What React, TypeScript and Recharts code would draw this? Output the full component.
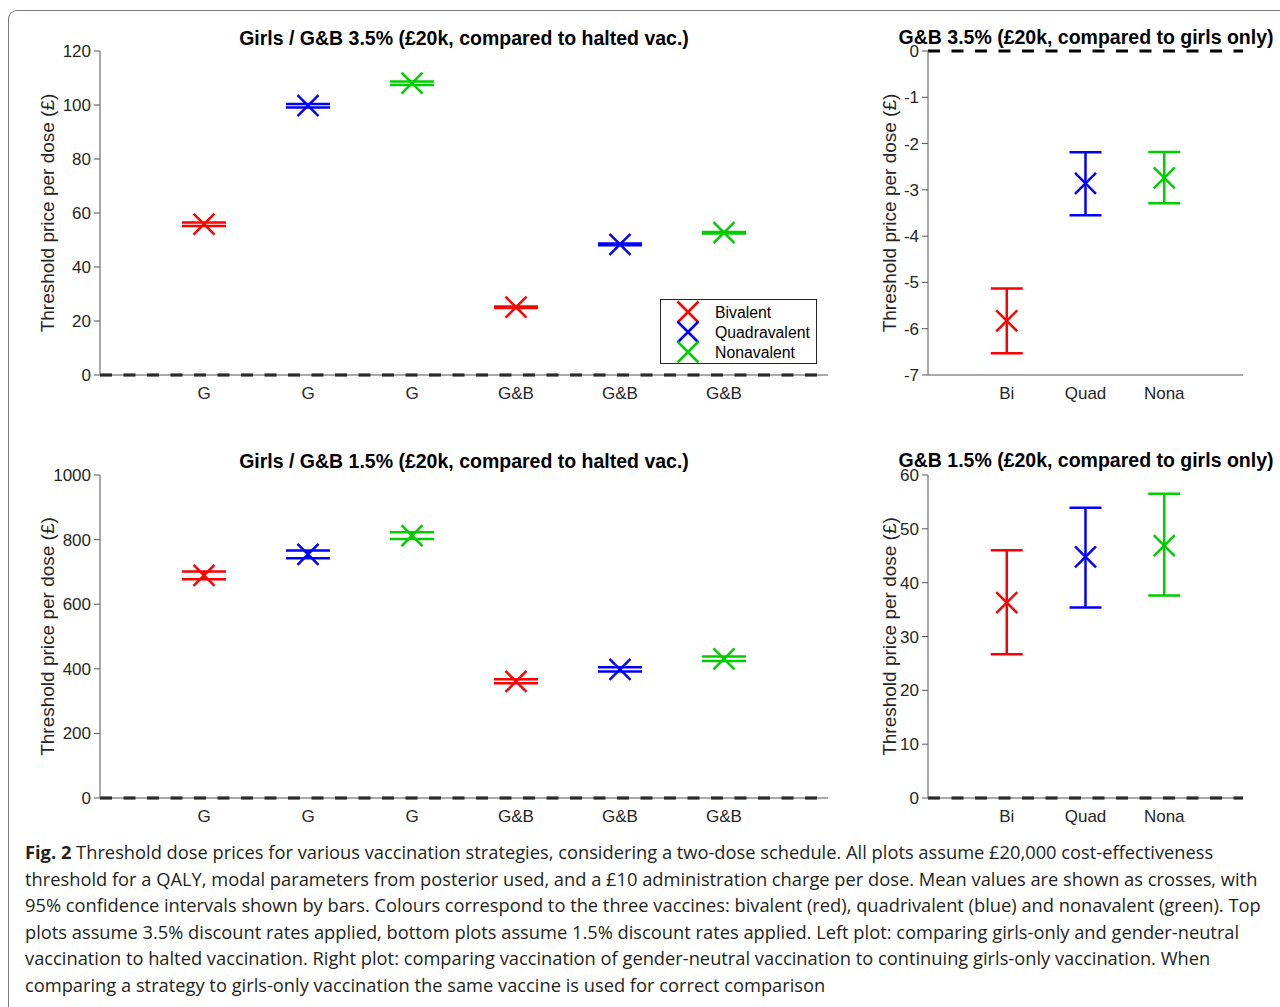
import React from 'react';
import { ComposedChart, Scatter, XAxis, YAxis, ErrorBar, ReferenceLine } from 'recharts';

// ---------- data ----------
const vaccineNames = ['Bivalent', 'Quadravalent', 'Nonavalent'];
const vaccineColors = ['#ff0000', '#0000ff', '#00cc00'];

// left panels: strategy (girls only / G&B) compared to halted vaccination
const strategyLabels = ['G', 'G', 'G', 'G&B', 'G&B', 'G&B'];
const strategyVaccine = [0, 1, 2, 0, 1, 2];

const top35Mean = [55.9, 99.8, 108.1, 25.1, 48.4, 52.7];
const top35Low = [55.2, 99.1, 107.4, 24.8, 48.1, 52.4];
const top35High = [56.5, 100.4, 108.7, 25.4, 48.7, 53.0];

const bot15Mean = [689, 754, 812, 361, 398, 431];
const bot15Low = [677, 742, 802, 355, 392, 424];
const bot15High = [701, 766, 823, 368, 405, 438];

// right panels: G&B compared to girls only
const rightLabels = ['Bi', 'Quad', 'Nona'];
const right35Mean = [-5.83, -2.86, -2.74];
const right35Low = [-6.53, -3.55, -3.29];
const right35High = [-5.13, -2.19, -2.18];

const right15Mean = [36.3, 44.8, 46.9];
const right15Low = [26.7, 35.4, 37.6];
const right15High = [46.0, 53.9, 56.5];

// axis ticks
const leftXTicks = [1, 2, 3, 4, 5, 6];
const rightXTicks = [1, 2, 3];
const topLeftYTicks = [0, 20, 40, 60, 80, 100, 120];
const botLeftYTicks = [0, 200, 400, 600, 800, 1000];
const topRightYTicks = [-7, -6, -5, -4, -3, -2, -1, 0];
const botRightYTicks = [0, 10, 20, 30, 40, 50, 60];

const titles = [
  'Girls / G&B 3.5% (£20k, compared to halted vac.)',
  'G&B 3.5% (£20k, compared to girls only)',
  'Girls / G&B 1.5% (£20k, compared to halted vac.)',
  'G&B 1.5% (£20k, compared to girls only)',
];
const yAxisTitle = 'Threshold price per dose (£)';

const captionLines = [
  'Threshold dose prices for various vaccination strategies, considering a two-dose schedule. All plots assume £20,000 cost-effectiveness',
  'threshold for a QALY, modal parameters from posterior used, and a £10 administration charge per dose. Mean values are shown as crosses, with',
  '95% confidence intervals shown by bars. Colours correspond to the three vaccines: bivalent (red), quadrivalent (blue) and nonavalent (green). Top',
  'plots assume 3.5% discount rates applied, bottom plots assume 1.5% discount rates applied. Left plot: comparing girls-only and gender-neutral',
  'vaccination to halted vaccination. Right plot: comparing vaccination of gender-neutral vaccination to continuing girls-only vaccination. When',
  'comparing a strategy to girls-only vaccination the same vaccine is used for correct comparison',
];

// ---------- helpers ----------
const FONT = '"Liberation Sans", Arial, Helvetica, sans-serif';
const AX = '#555555';
const TXT = '#262626';

type Pt = { x: number; y: number; err: [number, number] };

function leftSeries(mean: number[], low: number[], high: number[]) {
  return vaccineColors.map((color, v) => {
    const data: Pt[] = [];
    strategyVaccine.forEach((sv, i) => {
      if (sv === v) data.push({ x: i + 1, y: mean[i], err: [mean[i] - low[i], high[i] - mean[i]] });
    });
    return { name: vaccineNames[v], color, data };
  });
}

function rightSeries(mean: number[], low: number[], high: number[]) {
  return vaccineColors.map((color, v) => ({
    name: vaccineNames[v],
    color,
    data: [{ x: v + 1, y: mean[v], err: [mean[v] - low[v], high[v] - mean[v]] as [number, number] }],
  }));
}

const makeX = (color: string, half: number, sw: number) => (props: any) => {
  const { cx, cy } = props;
  if (cx == null || cy == null) return <g />;
  return (
    <g>
      <line x1={cx - half} y1={cy - half} x2={cx + half} y2={cy + half} stroke={color} strokeWidth={sw} />
      <line x1={cx - half} y1={cy + half} x2={cx + half} y2={cy - half} stroke={color} strokeWidth={sw} />
    </g>
  );
};

const EmptyTick = () => <g />;

const makeYLabel = (distFromAxis: number) => (props: any) => {
  const vb = props.viewBox || {};
  const x = vb.x + vb.width - distFromAxis;
  const y = vb.y + vb.height / 2;
  return (
    <text
      x={x}
      y={y}
      transform={`rotate(-90, ${x}, ${y})`}
      textAnchor="middle"
      dominantBaseline="central"
      fill={TXT}
      fontSize={19}
      fontFamily={FONT}
    >
      {yAxisTitle}
    </text>
  );
};

type PanelProps = {
  width: number;
  height: number;
  margin: { top: number; right: number; bottom: number; left: number };
  xDomain: [number, number];
  xTicks: number[];
  xLabels: string[];
  yDomain: [number, number];
  yTicks: number[];
  series: { name: string; color: string; data: Pt[] }[];
  capHalf: number;
  labelDist: number;
};

function Panel(p: PanelProps) {
  return (
    <ComposedChart width={p.width} height={p.height} margin={p.margin} style={{ fontFamily: FONT }}>
      <XAxis
        xAxisId="bm"
        type="number"
        dataKey="x"
        orientation="bottom"
        mirror
        height={0}
        domain={p.xDomain}
        ticks={p.xTicks}
        allowDataOverflow
        axisLine={false}
        tickLine={{ stroke: AX, strokeWidth: 1 }}
        tickSize={7}
        tick={EmptyTick}
      />
      <XAxis
        xAxisId="b"
        type="number"
        dataKey="x"
        orientation="bottom"
        height={30}
        domain={p.xDomain}
        ticks={p.xTicks}
        interval={0}
        allowDataOverflow
        tickFormatter={(v: number) => p.xLabels[v - 1] ?? ''}
        axisLine={{ stroke: AX, strokeWidth: 1 }}
        tickLine={false}
        tickSize={6}
        tickMargin={6}
        tick={{ fill: TXT, fontSize: 17, fontFamily: FONT }}
      />
      <XAxis
        xAxisId="t"
        type="number"
        dataKey="x"
        orientation="top"
        mirror
        height={0}
        domain={p.xDomain}
        ticks={p.xTicks}
        allowDataOverflow
        axisLine={{ stroke: AX, strokeWidth: 1 }}
        tickLine={{ stroke: AX, strokeWidth: 1 }}
        tickSize={7}
        tick={EmptyTick}
      />
      <YAxis
        yAxisId="l"
        type="number"
        dataKey="y"
        width={60}
        domain={p.yDomain}
        ticks={p.yTicks}
        interval={0}
        allowDataOverflow
        axisLine={{ stroke: AX, strokeWidth: 1 }}
        tickLine={{ stroke: AX, strokeWidth: 1 }}
        tickSize={6}
        tickMargin={3}
        tick={{ fill: TXT, fontSize: 17, fontFamily: FONT }}
        label={{ content: makeYLabel(p.labelDist) } as any}
      />
      <YAxis
        yAxisId="r"
        type="number"
        orientation="right"
        mirror
        width={0}
        domain={p.yDomain}
        ticks={p.yTicks}
        allowDataOverflow
        axisLine={{ stroke: AX, strokeWidth: 1 }}
        tickLine={{ stroke: AX, strokeWidth: 1 }}
        tickSize={7}
        tick={EmptyTick}
      />
      <ReferenceLine
        xAxisId="b"
        yAxisId="l"
        y={0}
        stroke="#000000"
        strokeWidth={3}
        strokeDasharray="12 11.5"
      />
      {p.series.map((s) => (
        <Scatter
          key={s.name}
          name={s.name}
          xAxisId="b"
          yAxisId="l"
          data={s.data}
          dataKey="y"
          fill={s.color}
          isAnimationActive={false}
          shape={makeX(s.color, 10.5, 2.5)}
        >
          <ErrorBar
            dataKey="err"
            direction="y"
            width={p.capHalf}
            stroke={s.color}
            strokeWidth={2.5}
            isAnimationActive={false}
          />
        </Scatter>
      ))}
    </ComposedChart>
  );
}

function LegendBox() {
  return (
    <svg width={158} height={66} style={{ position: 'absolute', left: 660, top: 299 }}>
      <rect x={0.5} y={0.5} width={156} height={64} fill="#ffffff" stroke={TXT} strokeWidth={1} />
      {vaccineNames.map((name, i) => {
        const cy = 13 + i * 20;
        const cx = 28;
        const h = 10.5;
        return (
          <g key={name}>
            <line x1={cx - h} y1={cy - h} x2={cx + h} y2={cy + h} stroke={vaccineColors[i]} strokeWidth={2.5} />
            <line x1={cx - h} y1={cy + h} x2={cx + h} y2={cy - h} stroke={vaccineColors[i]} strokeWidth={2.5} />
            <text x={55} y={cy} dominantBaseline="central" fontSize={15.8} fill="#000" fontFamily={FONT}>
              {name}
            </text>
          </g>
        );
      })}
    </svg>
  );
}

function Title({ text, cx, top }: { text: string; cx: number; top: number }) {
  return (
    <div
      style={{
        position: 'absolute',
        left: cx - 300,
        top,
        width: 600,
        textAlign: 'center',
        fontFamily: FONT,
        fontWeight: 'bold',
        fontSize: 19.5,
        lineHeight: '22px',
        color: '#000',
        whiteSpace: 'nowrap',
      }}
    >
      {text}
    </div>
  );
}

export default function App() {
  const tl = leftSeries(top35Mean, top35Low, top35High);
  const bl = leftSeries(bot15Mean, bot15Low, bot15High);
  const tr = rightSeries(right35Mean, right35Low, right35High);
  const br = rightSeries(right15Mean, right15Low, right15High);

  return (
    <div
      style={{
        position: 'absolute',
        left: 0,
        top: 0,
        width: 1280,
        height: 1007,
        background: '#ffffff',
        overflow: 'hidden',
        fontFamily: FONT,
      }}
    >
      <div
        style={{
          position: 'absolute',
          left: 8,
          top: 10,
          width: 1320,
          height: 1040,
          borderTop: '1px solid #7a7a7a',
          borderLeft: '1px solid #7a7a7a',
          borderTopLeftRadius: 9,
        }}
      />
      <div style={{ position: 'absolute', left: 0, top: 0 }}>
        <Panel
          width={860}
          height={420}
          margin={{ top: 51, right: 32, bottom: 15, left: 40 }}
          xDomain={[0, 7]}
          xTicks={leftXTicks}
          xLabels={strategyLabels}
          yDomain={[0, 120]}
          yTicks={topLeftYTicks}
          series={tl}
          capHalf={22}
          labelDist={53}
        />
      </div>
      <div style={{ position: 'absolute', left: 860, top: 0 }}>
        <Panel
          width={420}
          height={420}
          margin={{ top: 51, right: 37, bottom: 15, left: 8 }}
          xDomain={[0, 4]}
          xTicks={rightXTicks}
          xLabels={rightLabels}
          yDomain={[-7, 0]}
          yTicks={topRightYTicks}
          series={tr}
          capHalf={16}
          labelDist={39}
        />
      </div>
      <div style={{ position: 'absolute', left: 0, top: 420 }}>
        <Panel
          width={860}
          height={420}
          margin={{ top: 55, right: 32, bottom: 12, left: 40 }}
          xDomain={[0, 7]}
          xTicks={leftXTicks}
          xLabels={strategyLabels}
          yDomain={[0, 1000]}
          yTicks={botLeftYTicks}
          series={bl}
          capHalf={22}
          labelDist={53}
        />
      </div>
      <div style={{ position: 'absolute', left: 860, top: 420 }}>
        <Panel
          width={420}
          height={420}
          margin={{ top: 55, right: 37, bottom: 12, left: 8 }}
          xDomain={[0, 4]}
          xTicks={rightXTicks}
          xLabels={rightLabels}
          yDomain={[0, 60]}
          yTicks={botRightYTicks}
          series={br}
          capHalf={16}
          labelDist={39}
        />
      </div>
      <LegendBox />
      <Title text={titles[0]} cx={464} top={27} />
      <Title text={titles[1]} cx={1086} top={26} />
      <Title text={titles[2]} cx={464} top={450} />
      <Title text={titles[3]} cx={1086} top={449} />
      <div
        style={{
          position: 'absolute',
          left: 25,
          top: 839,
          fontFamily: '"Open Sans", "Noto Sans", sans-serif',
          fontSize: 18.3,
          lineHeight: '26.6px',
          color: '#231f20',
          whiteSpace: 'nowrap',
          letterSpacing: '0px',
        }}
      >
        {captionLines.map((line, i) => (
          <div key={i}>
            {i === 0 ? <b>Fig. 2 </b> : null}
            {line}
          </div>
        ))}
      </div>
    </div>
  );
}
